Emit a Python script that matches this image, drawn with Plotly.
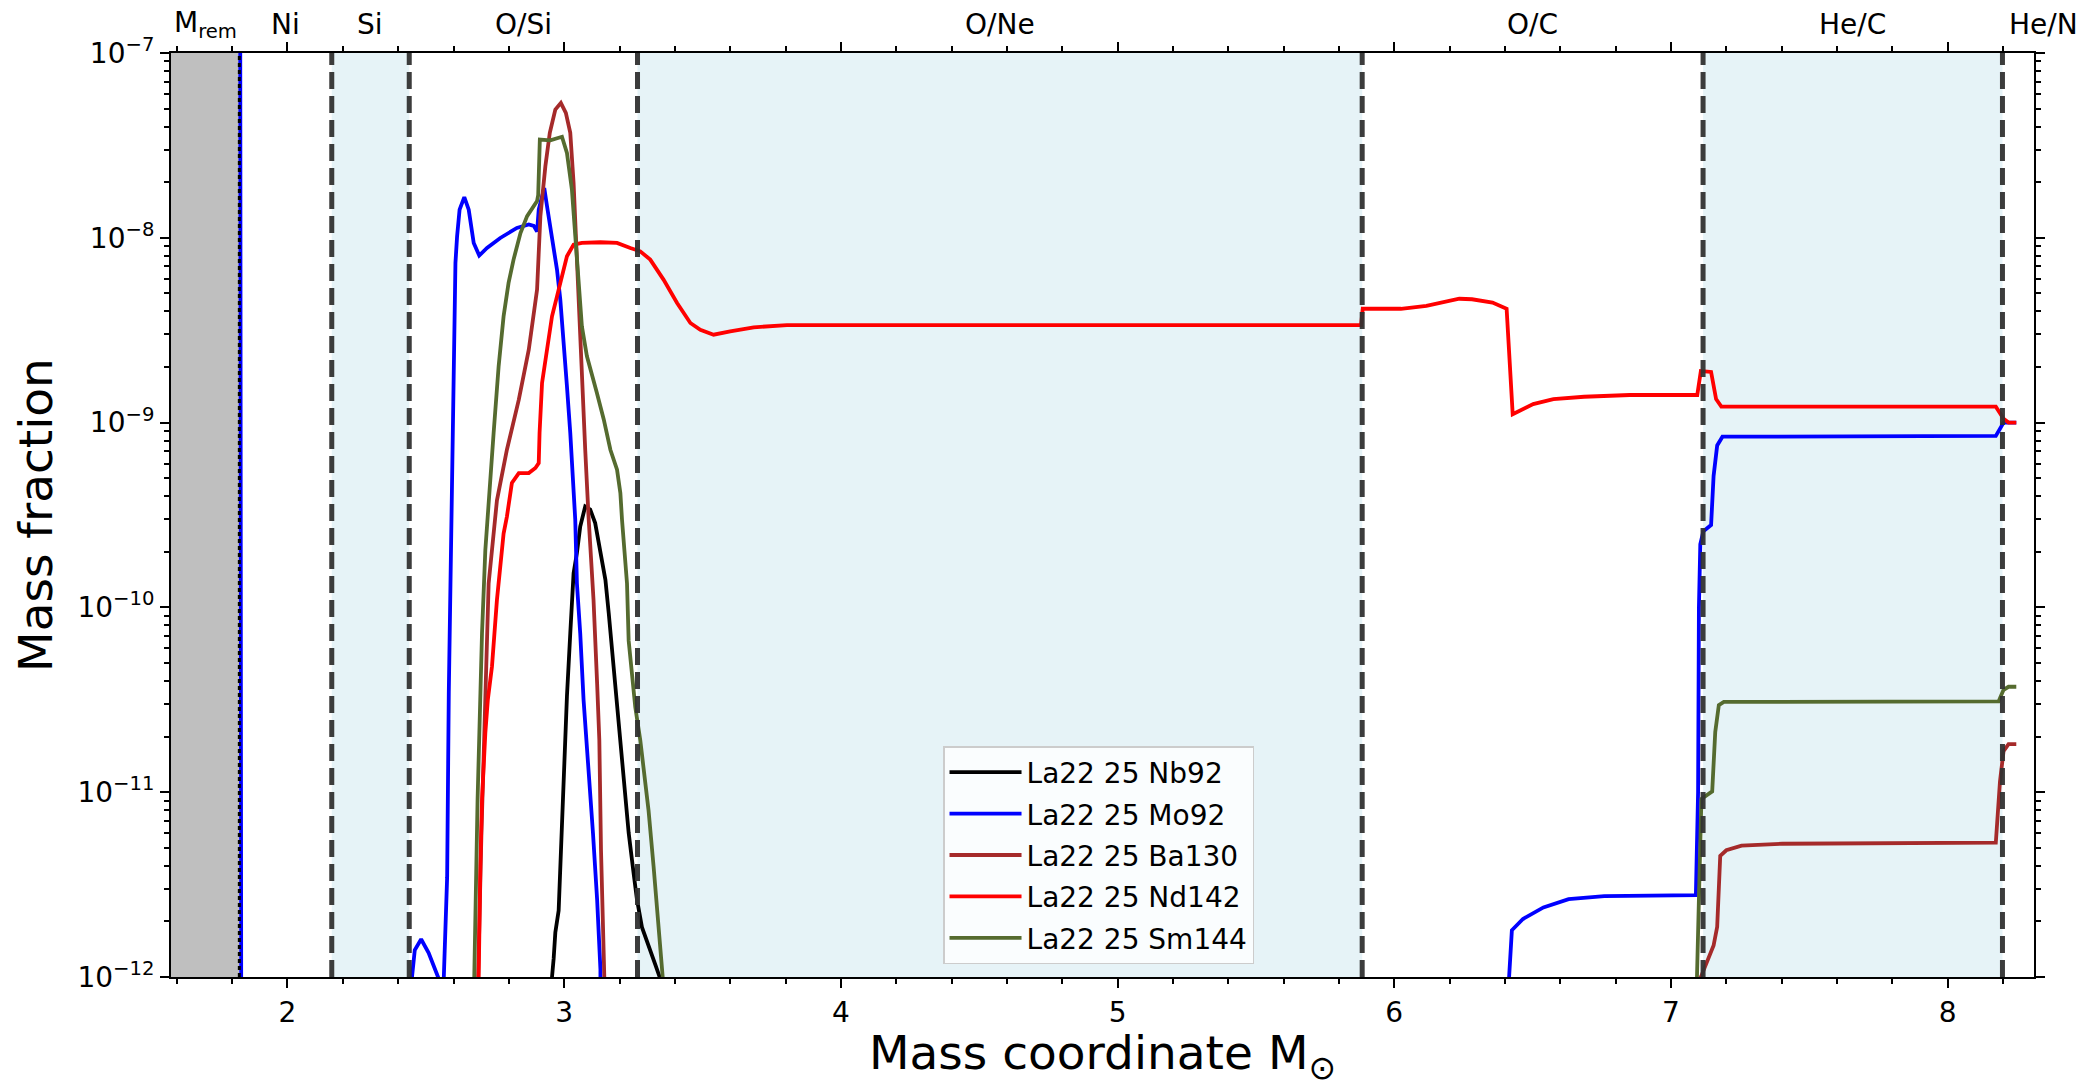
import plotly.graph_objects as go

FONT = "DejaVu Sans"

# ---------------- axes ----------------
x_range = [1.579, 8.312]
y_decades = [-12, -11, -10, -9, -8, -7]
y_tick_text = ["10<sup>\u221212</sup>", "10<sup>\u221211</sup>", "10<sup>\u221210</sup>",
               "10<sup>\u22129</sup>", "10<sup>\u22128</sup>", "10<sup>\u22127</sup>"]
x_major = [2, 3, 4, 5, 6, 7, 8]

# ---------------- zones ----------------
m_rem = 1.826
boundaries = [2.16, 2.44, 3.265, 5.884, 7.116, 8.198]
shaded_zones = [(2.16, 2.44), (3.265, 5.884), (7.116, 8.198)]
zone_labels = ["M<sub>rem</sub>", "Ni", "Si", "O/Si", "O/Ne", "O/C", "He/C", "He/N"]
zone_label_x = [1.702, 1.993, 2.300, 2.853, 4.575, 6.500, 7.657, 8.345]

# ---------------- data ----------------
BELOW = 1e-14  # below the plotted range

nb92_x = [2.954, 2.956, 2.962, 2.968, 2.980, 2.986, 2.992, 2.998, 3.004, 3.010, 3.022, 3.034,
          3.046, 3.058, 3.076, 3.094, 3.112, 3.131, 3.149, 3.161, 3.173, 3.185, 3.197, 3.209,
          3.221, 3.233, 3.251, 3.263, 3.281, 3.305, 3.329, 3.345, 3.347]
nb92_y = [BELOW, 1.0e-12, 1.26e-12, 1.74e-12, 2.29e-12, 3.98e-12, 6.03e-12, 1.26e-11, 2.09e-11,
          3.31e-11, 7.24e-11, 1.53e-10, 1.97e-10, 2.74e-10, 3.52e-10, 3.39e-10, 2.86e-10,
          2.05e-10, 1.41e-10, 9.31e-11, 5.89e-11, 3.72e-11, 2.24e-11, 1.45e-11, 9.77e-12,
          6.03e-12, 3.63e-12, 2.63e-12, 1.86e-12, 1.45e-12, 1.17e-12, 1.0e-12, BELOW]

mo92_x = [1.829, 1.831, 1.834,
          2.446, 2.450, 2.460, 2.483, 2.510, 2.540, 2.550, 2.552,
          2.562, 2.565, 2.577, 2.583, 2.591, 2.597, 2.601, 2.607, 2.613, 2.622, 2.639, 2.655,
          2.673, 2.693, 2.721, 2.769, 2.829, 2.872, 2.890, 2.902, 2.908, 2.928, 2.938, 2.950,
          2.962, 2.974, 2.986, 2.998, 3.010, 3.022, 3.034, 3.040, 3.046, 3.058, 3.070, 3.082,
          3.094, 3.104, 3.119, 3.128, 3.131, 3.133,
          6.413, 6.415, 6.425, 6.465, 6.539, 6.630, 6.759, 7.090, 7.098, 7.101, 7.106, 7.117,
          7.145, 7.154, 7.167, 7.186, 8.174, 8.202, 8.248]
mo92_y = [3e-7, 4.0e-9, BELOW,
          BELOW, 1.0e-12, 1.4e-12, 1.6e-12, 1.35e-12, 1.05e-12, 9.5e-13, BELOW,
          BELOW, 1.0e-12, 3.47e-12, 3.5e-11, 2.5e-10, 5.0e-10, 2.48e-9, 7.31e-9, 1.02e-8,
          1.42e-8, 1.66e-8, 1.42e-8, 9.38e-9, 8.02e-9, 8.81e-9, 9.98e-9, 1.13e-8, 1.18e-8,
          1.16e-8, 1.08e-8, 1.42e-8, 1.86e-8, 1.48e-8, 1.11e-8, 8.63e-9, 6.73e-9, 4.62e-9,
          2.81e-9, 1.57e-9, 8.79e-10, 4.34e-10, 2.98e-10, 1.35e-10, 7.24e-11, 3.16e-11,
          1.78e-11, 1.12e-11, 6.03e-12, 2.63e-12, 1.29e-12, 1.10e-12, BELOW,
          BELOW, 1.0e-12, 1.79e-12, 2.06e-12, 2.38e-12, 2.64e-12, 2.74e-12, 2.77e-12, 1.0e-11,
          1.0e-10, 2.2e-10, 2.58e-10, 2.79e-10, 5.14e-10, 7.52e-10, 8.39e-10, 8.47e-10,
          1.0e-9, 1.0e-9]

ba130_x = [2.687, 2.689, 2.701, 2.715, 2.727, 2.757, 2.793, 2.836, 2.872, 2.902, 2.914, 2.932,
           2.948, 2.968, 2.988, 3.006, 3.022, 3.034, 3.044, 3.055, 3.064, 3.076, 3.088, 3.106,
           3.119, 3.127, 3.133, 3.139, 3.145, 3.147,
           7.106, 7.108, 7.136, 7.154, 7.167, 7.178, 7.200, 7.255, 7.402, 8.174, 8.189, 8.202,
           8.220, 8.248]
ba130_y = [BELOW, 1.0e-12, 6.03e-12, 3.16e-11, 1.35e-10, 3.80e-10, 7.13e-10, 1.33e-9, 2.48e-9,
           5.25e-9, 1.31e-8, 2.44e-8, 3.70e-8, 4.94e-8, 5.37e-8, 4.74e-8, 3.70e-8, 1.98e-8,
           8.63e-9, 3.76e-9, 1.64e-9, 7.13e-10, 3.10e-10, 1.10e-10, 3.89e-11, 1.91e-11,
           4.90e-12, 2.14e-12, 1.0e-12, BELOW,
           BELOW, 1.0e-12, 1.28e-12, 1.48e-12, 1.87e-12, 4.52e-12, 4.85e-12, 5.14e-12,
           5.26e-12, 5.33e-12, 1.14e-11, 1.67e-11, 1.82e-11, 1.82e-11]

nd142_x = [2.689, 2.691, 2.697, 2.703, 2.715, 2.724, 2.739, 2.757, 2.781, 2.793, 2.811, 2.836,
           2.872, 2.896, 2.908, 2.911, 2.920, 2.938, 2.956, 2.974, 2.992, 3.010, 3.034, 3.064,
           3.131, 3.191, 3.239, 3.275, 3.311, 3.359, 3.408, 3.456, 3.492, 3.540, 3.600, 3.685,
           3.805, 5.880, 5.886, 6.024, 6.116, 6.208, 6.235, 6.281, 6.355, 6.406, 6.425, 6.428,
           6.502, 6.575, 6.686, 6.851, 7.095, 7.108, 7.145, 7.163, 7.182, 8.174, 8.202, 8.220,
           8.248]
nd142_y = [BELOW, 1.0e-12, 3.98e-12, 9.12e-12, 2.09e-11, 3.16e-11, 4.79e-11, 1.10e-10, 2.51e-10,
           3.10e-10, 4.71e-10, 5.33e-10, 5.33e-10, 5.68e-10, 6.04e-10, 8.79e-10, 1.64e-9,
           2.48e-9, 3.76e-9, 4.82e-9, 6.19e-9, 7.94e-9, 9.18e-9, 9.38e-9, 9.46e-9, 9.38e-9,
           8.81e-9, 8.45e-9, 7.62e-9, 5.94e-9, 4.44e-9, 3.46e-9, 3.18e-9, 2.99e-9, 3.12e-9,
           3.28e-9, 3.37e-9, 3.37e-9, 4.13e-9, 4.13e-9, 4.28e-9, 4.55e-9, 4.68e-9, 4.65e-9,
           4.46e-9, 4.13e-9, 1.13e-9, 1.11e-9, 1.26e-9, 1.34e-9, 1.38e-9, 1.41e-9, 1.41e-9,
           1.90e-9, 1.88e-9, 1.34e-9, 1.22e-9, 1.22e-9, 1.05e-9, 1.0e-9, 1.0e-9]

sm144_x = [2.673, 2.675, 2.687, 2.703, 2.715, 2.727, 2.745, 2.763, 2.781, 2.799, 2.817, 2.842,
           2.866, 2.902, 2.906, 2.912, 2.950, 2.992, 3.010, 3.028, 3.040, 3.052, 3.064, 3.082,
           3.100, 3.118, 3.143, 3.167, 3.191, 3.203, 3.209, 3.227, 3.233, 3.245, 3.257, 3.275,
           3.293, 3.305, 3.323, 3.335, 3.347, 3.356, 3.358,
           7.092, 7.094, 7.110, 7.149, 7.160, 7.173, 7.191, 8.184, 8.202, 8.220, 8.248]
sm144_y = [BELOW, 1.0e-12, 9.12e-12, 7.24e-11, 2.04e-10, 3.80e-10, 8.79e-10, 2.01e-9, 3.76e-9,
           5.70e-9, 7.62e-9, 1.06e-8, 1.31e-8, 1.58e-8, 1.70e-8, 3.40e-8, 3.37e-8, 3.52e-8,
           2.88e-8, 1.82e-8, 1.02e-8, 5.70e-9, 3.32e-9, 2.29e-9, 1.86e-9, 1.45e-9, 1.04e-9,
           7.13e-10, 5.56e-10, 4.16e-10, 2.98e-10, 1.35e-10, 6.61e-11, 4.37e-11, 2.88e-11,
           1.91e-11, 1.12e-11, 7.94e-12, 3.98e-12, 2.40e-12, 1.35e-12, 1.0e-12, BELOW,
           BELOW, 1.0e-12, 9.2e-12, 1.01e-11, 2.12e-11, 2.96e-11, 3.08e-11, 3.10e-11, 3.58e-11,
           3.72e-11, 3.72e-11]

series = [
    ("La22 25 Nb92", nb92_x, nb92_y, "#000000"),
    ("La22 25 Mo92", mo92_x, mo92_y, "#0000ff"),
    ("La22 25 Ba130", ba130_x, ba130_y, "#a52a2a"),
    ("La22 25 Nd142", nd142_x, nd142_y, "#ff0000"),
    ("La22 25 Sm144", sm144_x, sm144_y, "#556b2f"),
]

fig = go.Figure()
for i, (name, xs, ys, color) in enumerate(series):
    fig.add_trace(go.Scatter(
        x=xs, y=ys, mode="lines", name=name, legendgroup=f"g{i}",
        line=dict(color=color, width=3.8),
    ))

shapes = []
shapes.append(dict(type="rect", xref="x", yref="paper", x0=x_range[0], x1=m_rem, y0=0, y1=1,
                   fillcolor="#bfbfbf", line=dict(width=0), layer="below"))
for a, b in shaded_zones:
    shapes.append(dict(type="rect", xref="x", yref="paper", x0=a, x1=b, y0=0, y1=1,
                       fillcolor="rgba(173,216,230,0.3)", line=dict(width=0), layer="below"))
shapes.append(dict(type="line", xref="x", yref="paper", x0=m_rem, x1=m_rem, y0=0, y1=1,
                   line=dict(color="#000000", width=3, dash="4px,3px"), layer="above"))
for b in boundaries:
    shapes.append(dict(type="line", xref="x", yref="paper", x0=b, x1=b, y0=0, y1=1,
                       line=dict(color="rgba(50,50,50,0.95)", width=5, dash="17px,7px"),
                       layer="above"))

annotations = []
span = x_range[1] - x_range[0]
for lab, xv in zip(zone_labels, zone_label_x):
    annotations.append(dict(
        text=lab, xref="paper", yref="paper", x=(xv - x_range[0]) / span, y=1.0,
        yshift=29, xanchor="center", yanchor="middle", showarrow=False,
        font=dict(family=FONT, size=28, color="#000000"),
    ))

x_minor = [round(v * 0.2, 1) for v in range(8, 42) if v % 5 != 0]
y_minor = [m * 10.0 ** d for d in range(-12, -7) for m in range(2, 10)]

# page body adds an 8px margin, so the figure is shrunk by 8px to fit the window
fig.update_layout(
    width=2089, height=1079,
    margin=dict(l=163, r=63, t=45, b=110, autoexpand=False),
    paper_bgcolor="white", plot_bgcolor="white",
    font=dict(family=FONT, size=28, color="#000000"),
    shapes=shapes, annotations=annotations,
    showlegend=True,
    legend=dict(
        x=0.4144, y=0.25, xanchor="left", yanchor="top",
        bgcolor="rgba(255,255,255,0.8)", bordercolor="#cccccc", borderwidth=1.5,
        font=dict(family=FONT, size=28, color="#000000"),
        tracegroupgap=2, itemwidth=72,
    ),
    xaxis=dict(
        range=x_range, showgrid=False, zeroline=False,
        showline=True, linecolor="#000000", linewidth=2, mirror="ticks",
        ticks="outside", ticklen=9, tickwidth=2, tickcolor="#000000",
        tickvals=x_major, ticktext=[str(v) for v in x_major],
        tickfont=dict(family=FONT, size=28),
        minor=dict(tickvals=x_minor, ticks="outside", ticklen=5, tickwidth=1.5,
                   tickcolor="#000000", showgrid=False),
        title=dict(text="Mass coordinate M<sub>\u2299</sub>", font=dict(family=FONT, size=47),
                   standoff=18),
    ),
    yaxis=dict(
        type="log", range=[-12, -7], showgrid=False, zeroline=False,
        showline=True, linecolor="#000000", linewidth=2, mirror="ticks",
        ticks="outside", ticklen=9, tickwidth=2, tickcolor="#000000",
        tickvals=[10.0 ** d for d in y_decades], ticktext=y_tick_text,
        tickfont=dict(family=FONT, size=28),
        minor=dict(tickvals=y_minor, ticks="outside", ticklen=5, tickwidth=1.5,
                   tickcolor="#000000", showgrid=False),
        title=dict(text="Mass fraction", font=dict(family=FONT, size=47), standoff=16),
    ),
)

fig.write_html("out.html")
